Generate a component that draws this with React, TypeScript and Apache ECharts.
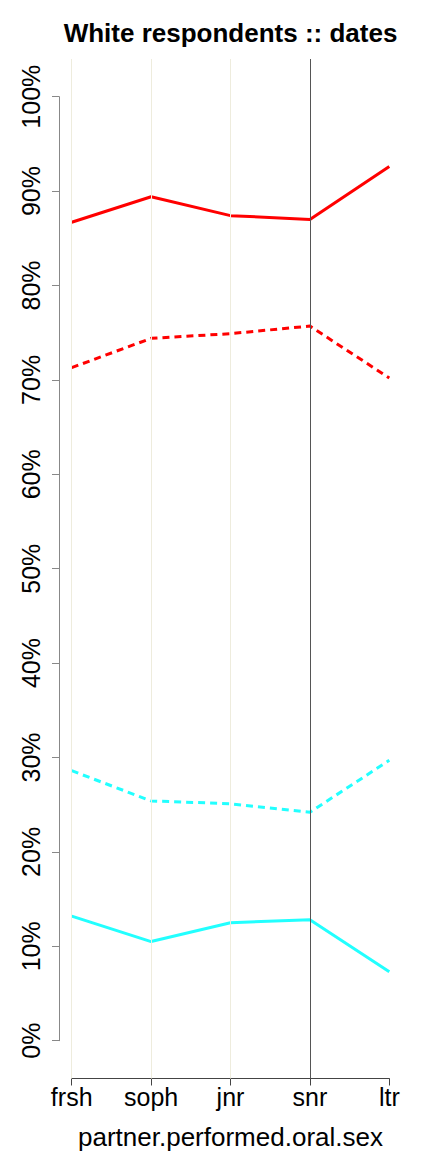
import React, { useEffect, useRef } from "react";
import * as echarts from "echarts";

const categories = ["frsh", "soph", "jnr", "snr", "ltr"];
const redSolid = [86.7, 89.4, 87.4, 87.0, 92.6];
const redDashed = [71.3, 74.4, 74.9, 75.7, 70.2];
const cyanDashed = [28.6, 25.4, 25.1, 24.2, 29.7];
const cyanSolid = [13.2, 10.5, 12.5, 12.8, 7.3];
const titleText = "White respondents :: dates";
const xName = "partner.performed.oral.sex";

const FONT = "Liberation Sans, Arial, Helvetica, sans-serif";

export default function App() {
  const ref = useRef<HTMLDivElement>(null);
  useEffect(() => {
    if (!ref.current) return;
    const chart = echarts.init(ref.current, null, { renderer: "svg" });
    const option: any = {
      animation: false,
      backgroundColor: "#ffffff",
      textStyle: { fontFamily: FONT },
      graphic: [
        {
          type: "text",
          x: 230.5,
          y: 33,
          style: {
            text: titleText,
            font: `bold 26px ${FONT}`,
            fill: "#000",
            textAlign: "center",
            textVerticalAlign: "middle",
          },
        },
      ],
      grid: [
        // inner data box: frsh..ltr, 0%..100%
        {
          left: 71.7,
          right: 42.7,
          top: 96.7,
          bottom: 111.3,
          containLabel: false,
          outerBoundsMode: "none",
        },
        // outer plot box (for reference lines)
        {
          left: 59,
          right: 30,
          top: 59,
          bottom: 73.5,
          containLabel: false,
          outerBoundsMode: "none",
        },
      ],
      xAxis: [
        {
          gridIndex: 0,
          type: "category",
          data: categories,
          boundaryGap: false,
          offset: 37.8,
          name: xName,
          nameLocation: "middle",
          nameGap: 45,
          nameTextStyle: { fontSize: 26, color: "#000", fontFamily: FONT },
          axisLine: { show: true, onZero: false, lineStyle: { color: "#444", width: 1 } },
          splitLine: { show: false },
          axisTick: {
            show: true,
            alignWithLabel: true,
            length: 7,
            lineStyle: { color: "#444", width: 1 },
          },
          axisLabel: {
            show: true,
            interval: 0,
            margin: 6,
            fontSize: 25,
            color: "#000",
            fontFamily: FONT,
          },
        },
        {
          gridIndex: 1,
          type: "value",
          min: 0.84,
          max: 5.16,
          show: false,
        },
      ],
      yAxis: [
        {
          gridIndex: 0,
          type: "value",
          min: 0,
          max: 100,
          interval: 10,
          offset: 12.7,
          axisLine: { show: true, onZero: false, lineStyle: { color: "#888", width: 1 } },
          splitLine: { show: false },
          axisTick: {
            show: true,
            length: 7,
            lineStyle: { color: "#888", width: 1 },
          },
          axisLabel: {
            show: true,
            rotate: 90,
            margin: 16,
            fontSize: 25,
            color: "#000",
            fontFamily: FONT,
            formatter: (v: number) => `${v}%`,
          },
        },
        {
          gridIndex: 1,
          type: "value",
          min: -4,
          max: 104,
          show: false,
        },
      ],
      series: [
        {
          type: "line",
          xAxisIndex: 1,
          yAxisIndex: 1,
          data: [],
          z: 1,
          silent: true,
          markLine: {
            silent: true,
            symbol: ["none", "none"],
            label: { show: false },
            animation: false,
            data: [
              { xAxis: 1, lineStyle: { color: "#EEECDD", width: 1, type: "solid" } },
              { xAxis: 2, lineStyle: { color: "#EEECDD", width: 1, type: "solid" } },
              { xAxis: 3, lineStyle: { color: "#EEECDD", width: 1, type: "solid" } },
              { xAxis: 4, lineStyle: { color: "#555555", width: 1, type: "solid" } },
            ],
          },
        },
        {
          type: "line",
          data: redSolid,
          z: 3,
          symbol: "none",
          clip: false,
          lineStyle: { color: "#FF0000", width: 3, type: "solid" },
        },
        {
          type: "line",
          data: redDashed,
          z: 3,
          symbol: "none",
          clip: false,
          lineStyle: { color: "#FF0000", width: 3, type: [7, 5] },
        },
        {
          type: "line",
          data: cyanDashed,
          z: 3,
          symbol: "none",
          clip: false,
          lineStyle: { color: "#22FFFF", width: 3, type: [7, 5] },
        },
        {
          type: "line",
          data: cyanSolid,
          z: 3,
          symbol: "none",
          clip: false,
          lineStyle: { color: "#22FFFF", width: 3, type: "solid" },
        },
      ],
    };
    chart.setOption(option);
    return () => chart.dispose();
  }, []);
  return (
    <div
      ref={ref}
      style={{ position: "fixed", left: 0, top: 0, width: 432, height: 1152 }}
    />
  );
}
